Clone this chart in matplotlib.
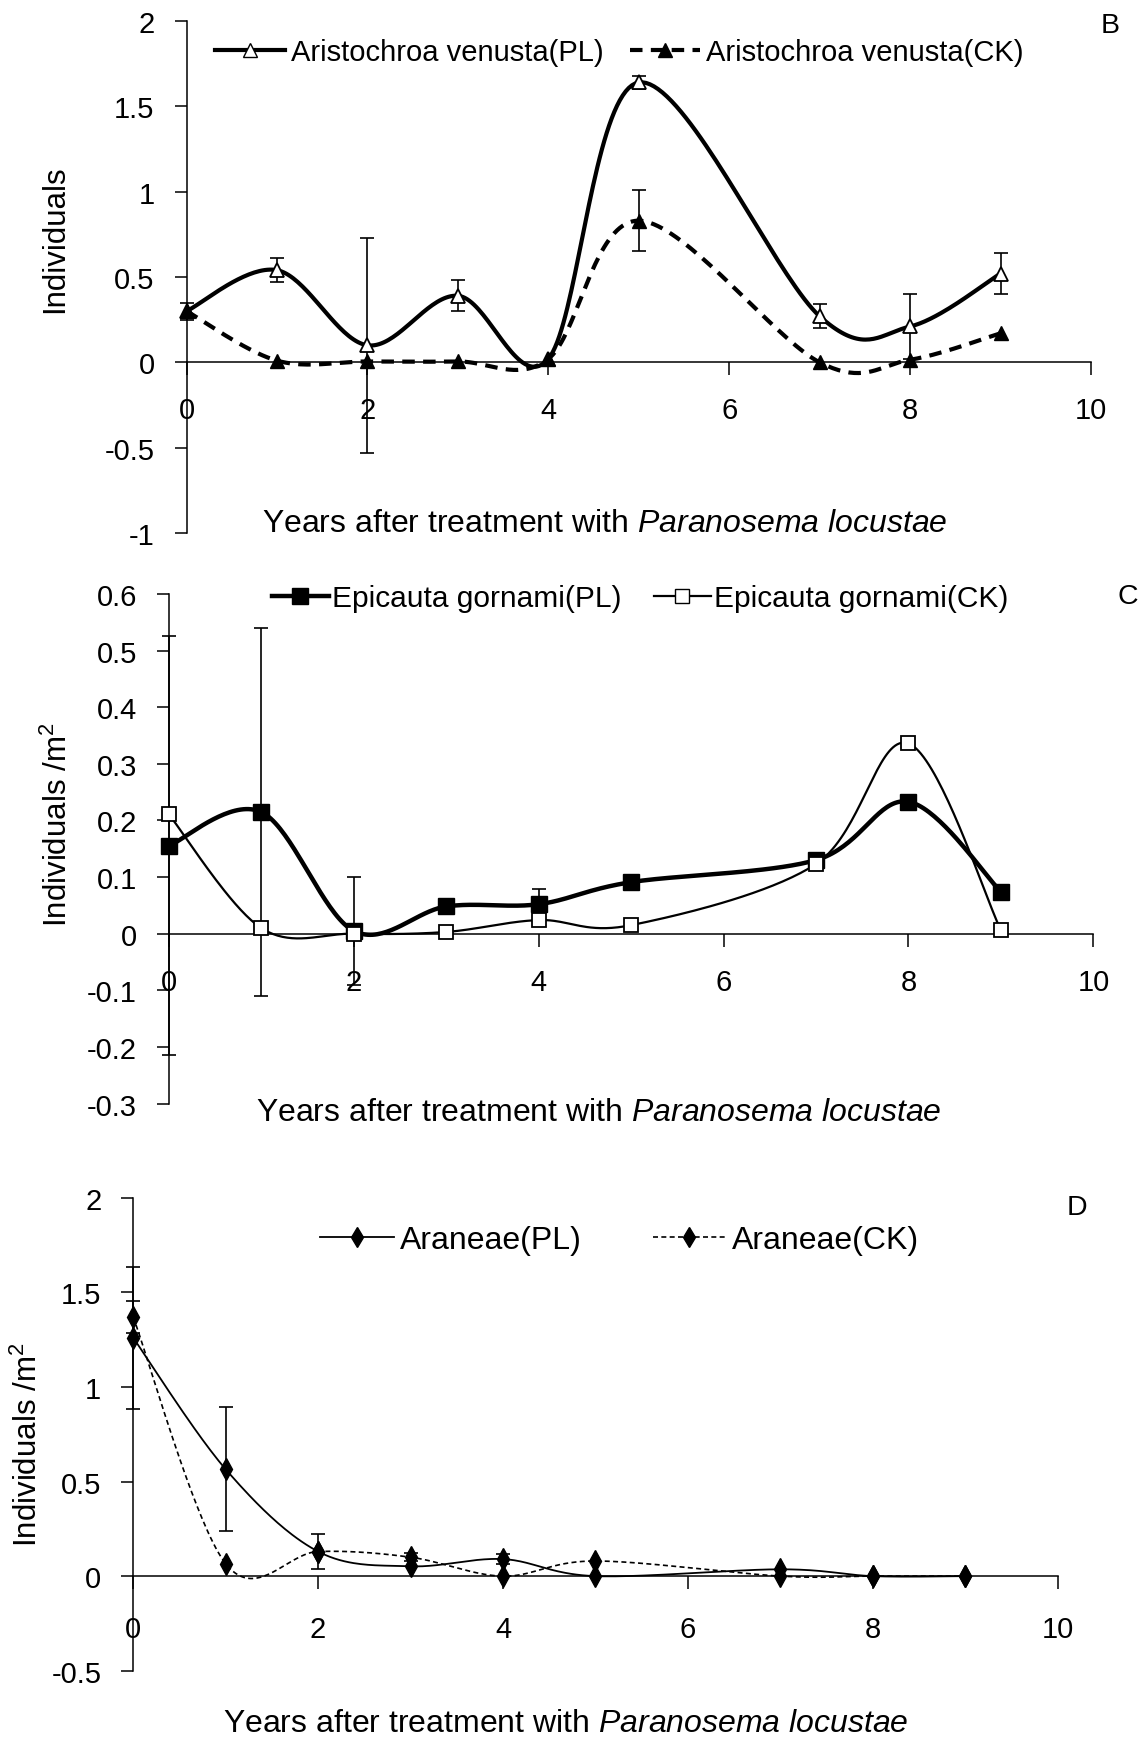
import numpy as np
import matplotlib
matplotlib.use("Agg")
import matplotlib.pyplot as plt
from matplotlib.lines import Line2D
from matplotlib.ticker import FuncFormatter

plt.rcParams['font.family'] = ['Liberation Sans', 'DejaVu Sans']
plt.rcParams['mathtext.fontset'] = 'custom'
plt.rcParams['mathtext.rm'] = 'Liberation Sans'
plt.rcParams['mathtext.it'] = 'Liberation Sans:italic'
plt.rcParams['axes.unicode_minus'] = False

years = [0, 1, 2, 3, 4, 5, 7, 8, 9]

# panel B - Aristochroa venusta
av_pl = [0.30, 0.54, 0.10, 0.39, 0.02, 1.64, 0.27, 0.21, 0.52]
av_pl_err = [0.05, 0.07, 0.63, 0.09, 0.0, 0.04, 0.07, 0.19, 0.12]
av_ck = [0.30, 0.01, 0.005, 0.005, 0.02, 0.83, 0.0, 0.015, 0.17]
av_ck_err = [0.0, 0.0, 0.0, 0.0, 0.0, 0.18, 0.0, 0.0, 0.0]

# panel C - Epicauta gornami
eg_pl = [0.155, 0.215, 0.005, 0.048, 0.052, 0.091, 0.13, 0.233, 0.074]
eg_pl_err = [0.37, 0.325, 0.095, 0.0, 0.027, 0.0, 0.0, 0.0, 0.0]
eg_ck = [0.211, 0.01, 0.0, 0.003, 0.024, 0.015, 0.123, 0.336, 0.006]

# panel D - Araneae
ar_pl = [1.26, 0.565, 0.13, 0.052, 0.09, 0.0, 0.036, 0.0, 0.0]
ar_pl_err = [0.375, 0.327, 0.094, 0.0, 0.025, 0.0, 0.0, 0.0, 0.0]
ar_ck = [1.37, 0.066, 0.13, 0.10, 0.0, 0.08, 0.0, 0.0, 0.0]
ar_ck_err = [0.085, 0.0, 0.0, 0.02, 0.0, 0.0, 0.0, 0.0, 0.0]

W, H = 1140, 1740


def smooth(x, y, n=40):
    # excel-like smoothed line (bezier through the points)
    pts = np.column_stack([x, y]).astype(float)
    P = np.vstack([pts[0], pts, pts[-1]])
    t = np.linspace(0, 1, n)[:, None]
    segs = []
    for i in range(1, len(P) - 2):
        p0, p1, p2, p3 = P[i - 1], P[i], P[i + 1], P[i + 2]
        c1 = p1 + (p2 - p0) / 6
        c2 = p2 - (p3 - p1) / 6
        segs.append((1 - t) ** 3 * p1 + 3 * (1 - t) ** 2 * t * c1
                    + 3 * (1 - t) * t ** 2 * c2 + t ** 3 * p2)
    s = np.vstack(segs)
    return s[:, 0], s[:, 1]


def px_axes(fig, x0, x10, ytop, ybot):
    return fig.add_axes([x0 / W, 1 - ybot / H, (x10 - x0) / W, (ybot - ytop) / H])


def style_axis(ax, ylim, yticks, xpad=16):
    ax.set_xlim(0, 10)
    ax.set_ylim(*ylim)
    ax.spines['top'].set_visible(False)
    ax.spines['right'].set_visible(False)
    ax.spines['bottom'].set_position(('data', 0))
    for s in ['left', 'bottom']:
        ax.spines[s].set_linewidth(1.1)
    ax.set_xticks(range(0, 11, 2))
    ax.set_yticks(yticks)
    ax.yaxis.set_major_formatter(FuncFormatter(lambda v, p: f"{v:g}"))
    ax.tick_params(axis='x', direction='out', length=9, width=1.1, pad=xpad, labelsize=21)
    ax.tick_params(axis='y', direction='out', length=9, width=1.1, pad=14, labelsize=21)
    ax.patch.set_alpha(0)


def errbars(ax, y, err):
    for xi, yi, e in zip(years, y, err):
        if e > 0:
            ax.errorbar([xi], [yi], yerr=[e], fmt='none', ecolor='black',
                        elinewidth=1.2, capsize=5, capthick=1.2, clip_on=False, zorder=2)


fig = plt.figure(figsize=(W / 100, H / 100), dpi=100)

# ---------------- B ----------------
axB = px_axes(fig, 186.5, 1091, 22, 534)
style_axis(axB, (-1, 2), [-1, -0.5, 0, 0.5, 1, 1.5, 2], xpad=15)
errbars(axB, av_pl, av_pl_err)
errbars(axB, av_ck, av_ck_err)
sx, sy = smooth(years, av_pl)
axB.plot(sx, sy, color='black', lw=3, zorder=3, clip_on=False)
sx, sy = smooth(years, av_ck)
axB.plot(sx, sy, color='black', lw=3, dashes=(3, 2), zorder=3, clip_on=False)
axB.plot(years, av_pl, ls='none', marker='^', ms=10, mfc='white', mec='black', mew=1.3, zorder=4, clip_on=False)
axB.plot(years, av_ck, ls='none', marker='^', ms=10, mfc='black', mec='black', zorder=4, clip_on=False)
hB = [Line2D([], [], color='black', lw=3, marker='^', ms=10, mfc='white', mec='black'),
      Line2D([], [], color='black', lw=3, dashes=(3, 2), marker='^', ms=10, mfc='black', mec='black')]
fig.legend(hB, ['Aristochroa venusta(PL)', 'Aristochroa venusta(CK)'], loc='center',
           bbox_to_anchor=(619 / W, 1 - 53 / H), ncol=2, frameon=False, fontsize=21,
           handlelength=2.4, handletextpad=0.2, columnspacing=0.9)
fig.text(1110 / W, 1 - 26 / H, 'B', fontsize=20.5, ha='center', va='center')
fig.text(605 / W, 1 - 524 / H, r'Years after treatment with $\mathit{Paranosema\ locustae}$',
         fontsize=23, ha='center', va='center')
fig.text(55 / W, 1 - 239 / H, 'Individuals', fontsize=22.5, rotation=90, ha='center', va='center')

# ---------------- C ----------------
axC = px_axes(fig, 168.7, 1093.4, 595, 1104.5)
style_axis(axC, (-0.3, 0.6), [-0.3, -0.2, -0.1, 0, 0.1, 0.2, 0.3, 0.4, 0.5, 0.6], xpad=16)
errbars(axC, eg_pl, eg_pl_err)
sx, sy = smooth(years, eg_pl)
axC.plot(sx, sy, color='black', lw=3.2, zorder=3, clip_on=False)
sx, sy = smooth(years, eg_ck)
axC.plot(sx, sy, color='black', lw=1.6, zorder=3, clip_on=False)
axC.plot(years, eg_pl, ls='none', marker='s', ms=11, mfc='black', mec='black', zorder=4, clip_on=False)
axC.plot(years, eg_ck, ls='none', marker='s', ms=10, mfc='white', mec='black', mew=1.3, zorder=4, clip_on=False)
hC = [Line2D([], [], color='black', lw=3.2, marker='s', ms=11, mfc='black', mec='black'),
      Line2D([], [], color='black', lw=1.6, marker='s', ms=10, mfc='white', mec='black')]
fig.legend(hC, ['Epicauta gornami(PL)', 'Epicauta gornami(CK)'], loc='center',
           bbox_to_anchor=(640 / W, 1 - 599 / H), ncol=2, frameon=False, fontsize=21.5,
           handlelength=1.9, handletextpad=0.1, columnspacing=1.1)
fig.text(1138 / W, 1 - 597 / H, 'C', fontsize=20.5, ha='right', va='center')
fig.text(599 / W, 1 - 1113 / H, r'Years after treatment with $\mathit{Paranosema\ locustae}$',
         fontsize=23, ha='center', va='center')
fig.text(58 / W, 1 - 825 / H, r'Individuals /m$^2$', fontsize=22.5, rotation=90, ha='center', va='center')

# ---------------- D ----------------
axD = px_axes(fig, 133.2, 1057.8, 1198.8, 1671.7)
style_axis(axD, (-0.5, 2), [-0.5, 0, 0.5, 1, 1.5, 2], xpad=19)
errbars(axD, ar_pl, ar_pl_err)
errbars(axD, ar_ck, ar_ck_err)
sx, sy = smooth(years, ar_pl)
axD.plot(sx, sy, color='black', lw=1.3, zorder=3, clip_on=False)
sx, sy = smooth(years, ar_ck)
axD.plot(sx, sy, color='black', lw=1.2, dashes=(3, 2), zorder=3, clip_on=False)
axD.plot(years, ar_pl, ls='none', marker='d', ms=11, mfc='black', mec='black', zorder=4, clip_on=False)
axD.plot(years, ar_ck, ls='none', marker='d', ms=11, mfc='black', mec='black', zorder=4, clip_on=False)
hD = [Line2D([], [], color='black', lw=1.3, marker='d', ms=10, mfc='black', mec='black'),
      Line2D([], [], color='black', lw=1.2, dashes=(3, 2), marker='d', ms=10, mfc='black', mec='black')]
fig.legend(hD, ['Araneae(PL)', 'Araneae(CK)'], loc='center',
           bbox_to_anchor=(620 / W, 1 - 1241 / H), ncol=2, frameon=False, fontsize=23,
           handlelength=2.3, handletextpad=0.2, columnspacing=2.2)
fig.text(1077 / W, 1 - 1208 / H, 'D', fontsize=20.5, ha='center', va='center')
fig.text(566 / W, 1 - 1724 / H, r'Years after treatment with $\mathit{Paranosema\ locustae}$',
         fontsize=23, ha='center', va='center')
fig.text(28 / W, 1 - 1445 / H, r'Individuals /m$^2$', fontsize=22.5, rotation=90, ha='center', va='center')

fig.savefig('out.png', dpi=100)
